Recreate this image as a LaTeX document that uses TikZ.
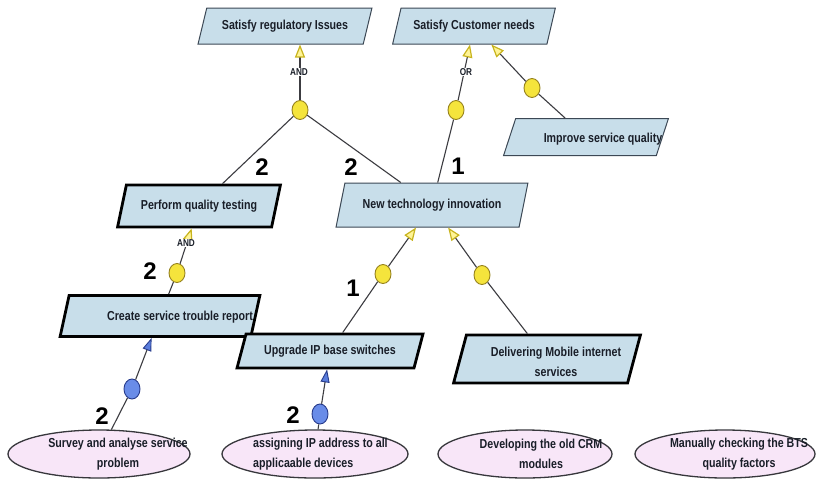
\documentclass[tikz,border=0pt]{standalone}
\usepackage{fontspec}
\newfontfamily\lbl[FakeStretch=0.82]{Liberation Sans}
\newfontfamily\dig{Liberation Sans}
\usetikzlibrary{shapes.geometric,arrows.meta}
\definecolor{boxfill}{RGB}{200,222,234}
\definecolor{thinline}{RGB}{60,72,85}
\definecolor{dotyellow}{RGB}{245,228,60}
\definecolor{dotyellowb}{RGB}{150,130,30}
\definecolor{dotblue}{RGB}{105,140,232}
\definecolor{dotblueb}{RGB}{40,60,140}
\definecolor{pinkfill}{RGB}{248,230,248}
\definecolor{leafb}{RGB}{55,55,60}
\definecolor{connc}{RGB}{60,60,65}
\definecolor{yarrd}{RGB}{200,180,30}
\definecolor{yarrf}{RGB}{255,244,150}
\definecolor{barrf}{RGB}{90,125,220}
\definecolor{txt}{RGB}{25,30,40}
\begin{document}
\begin{tikzpicture}[x=1pt,y=-1pt,
  goal/.style={trapezium, trapezium left angle=60, trapezium right angle=120,
    trapezium stretches=true, fill=boxfill, draw=thinline, line width=1pt,
    inner sep=0pt, font=\lbl\bfseries\fontsize{13}{15}\selectfont, text=txt},
  thickgoal/.style={goal, draw=black, line width=2.8pt},
  leaf/.style={ellipse, fill=pinkfill, draw=leafb, line width=1.3pt,
    minimum height=48pt, inner sep=0pt},
  lbltext/.style={font=\lbl\bfseries\fontsize{13}{20.5}\selectfont, text=txt, inner sep=0pt},
  ydot/.style={ellipse, minimum width=16pt, minimum height=19pt, inner sep=0pt,
    fill=dotyellow, draw=dotyellowb, line width=0.9pt},
  bdot/.style={ellipse, minimum width=16pt, minimum height=20pt, inner sep=0pt,
    fill=dotblue, draw=dotblueb, line width=0.9pt},
  conn/.style={draw=connc, line width=1.1pt},
  yarrow/.style={-{Triangle[length=13pt,width=10pt,line width=1.2pt,color=yarrd,fill=yarrf]}},
  barrow/.style={-{Triangle[length=13pt,width=9pt,line width=0.9pt,color=dotblueb,fill=barrf]}},
  oplabel/.style={font=\lbl\bfseries\fontsize{10}{11}\selectfont, text=txt, fill=white, inner sep=0.6pt},
  weight/.style={font=\dig\bfseries\fontsize{24}{26}\selectfont, text=black, inner sep=0pt}
]
\fill[white] (0,0) rectangle (826,482);
\useasboundingbox (0,0) rectangle (826,482);

% goals / tasks
\node[goal, minimum width=174pt, minimum height=36pt] (reg) at (285,26) {Satisfy regulatory Issues};
\node[goal, minimum width=163pt, minimum height=36pt] (cust) at (474,26) {Satisfy Customer needs};
\node[goal, minimum width=165pt, minimum height=37pt] (improve) at (586,137) {\phantom{Improve service}};
\node[lbltext] (improvet) at (603,139) {Improve service quality};
\node[thickgoal, minimum width=163pt, minimum height=42pt] (perform) at (199,206) {Perform quality testing};
\node[goal, minimum width=192pt, minimum height=44pt] (nti) at (432,205) {New technology innovation};
\node[thickgoal, minimum width=200pt, minimum height=41pt] (create) at (160,316) {\phantom{Create service trouble}};
\node[lbltext] (createt) at (180,317) {Create service trouble report};
\node[thickgoal, minimum width=186pt, minimum height=34pt] (upgrade) at (330,351) {Upgrade IP base switches};
\node[thickgoal, minimum width=187pt, minimum height=48pt] (deliver) at (547,359) {\phantom{Delivering Mobile}};
\node[lbltext, align=center] (delivert) at (556,362) {Delivering Mobile internet\\services};

% leaves
\node[leaf, minimum width=182pt] (survey) at (99,454) {};
\node[lbltext, align=center] (surveyt) at (118,454) {Survey and analyse service\\problem};
\node[leaf, minimum width=186pt] (assign) at (315,454) {};
\node[lbltext, align=left, anchor=west] (assignt) at (253,454) {assigning IP address to all\\applicaable devices};
\node[leaf, minimum width=174pt] (develop) at (525,454) {};
\node[lbltext, align=center] (developt) at (541,454) {Developing the old CRM\\modules};
\node[leaf, minimum width=180pt] (manual) at (725,454) {};
\node[lbltext, align=center] (manualt) at (739,454) {Manually checking the BTS\\quality factors};

% contribution dots
\node[ydot] (c1) at (300,110) {};
\node[ydot] (c2) at (456,110) {};
\node[ydot] (c3) at (532,88) {};
\node[ydot] (c4) at (177,273) {};
\node[bdot] (c5) at (132,389) {};
\node[bdot] (c6) at (320,414) {};
\node[ydot] (c7) at (383,274) {};
\node[ydot] (c8) at (482,275) {};

% connectors
\draw[conn, yarrow] (c1) -- (c1 |- reg.south);
\draw[conn] (c1) -- (perform);
\draw[conn] (c1) -- (nti);
\draw[conn, yarrow] (c2) -- (cust);
\draw[conn] (c2) -- (nti);
\draw[conn, yarrow] (c3) -- (cust);
\draw[conn] (c3) -- (improve);
\draw[conn, yarrow] (c4) -- (perform);
\draw[conn] (c4) -- (create);
\draw[conn, barrow] (c5) -- (create);
\draw[conn] (c5) -- (survey);
\draw[conn, barrow] (c6) -- (upgrade);
\draw[conn] (c6) -- (assign);
\draw[conn, yarrow] (c7) -- (nti);
\draw[conn] (c7) -- (upgrade);
\draw[conn, yarrow] (c8) -- (nti);
\draw[conn] (c8) -- (deliver);

% operator labels
\node[oplabel] (and1) at (299,72) {AND};
\node[oplabel] (or1) at (466,72) {OR};
\node[oplabel] (and2) at (186,243) {AND};

% weights
\node[weight] (w1) at (262,167) {2};
\node[weight] (w2) at (351,167) {2};
\node[weight] (w3) at (458,166) {1};
\node[weight] (w4) at (150,271) {2};
\node[weight] (w5) at (353,288) {1};
\node[weight] (w6) at (102,416) {2};
\node[weight] (w7) at (293,415) {2};
\end{tikzpicture}
\end{document}
